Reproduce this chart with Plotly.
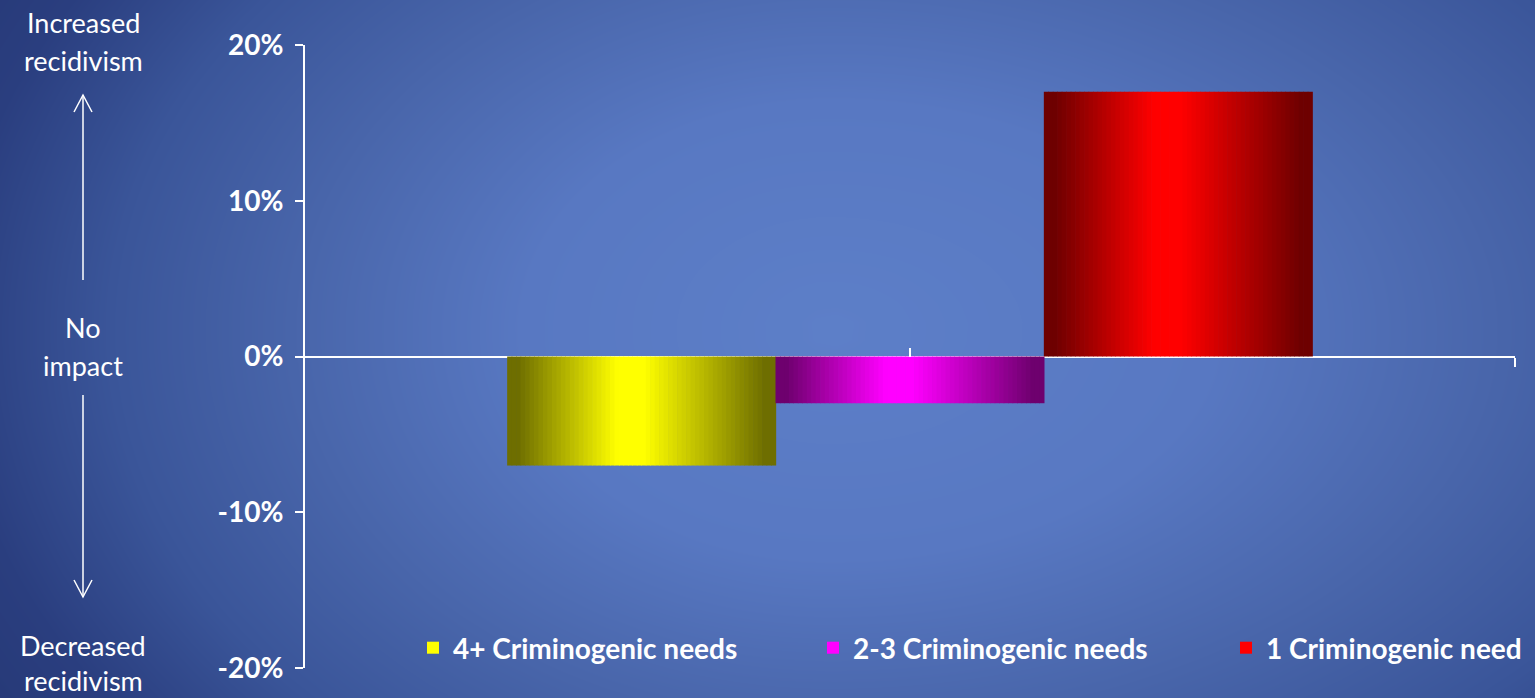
import numpy as np
import plotly.graph_objects as go

# ---- data ----
categories = ["4+ Criminogenic needs", "2-3 Criminogenic needs", "1 Criminogenic need"]
values = [-7, -3, 17]  # percent change in recidivism
bright_colors = [(255, 255, 0), (255, 0, 255), (255, 0, 0)]
y_ticks = [-20, -10, 0, 10, 20]

W, H = 1535, 698

fig = go.Figure()

# ---- background radial gradient (decor) ----
gx = np.linspace(0, W, 80)
gy = np.linspace(0, H, 40)
X, Y = np.meshgrid(gx, gy)
cx, cy = 830, 330
rx = np.where(X < cx, 880, 1100)
Z = np.sqrt(((X - cx) / rx) ** 2 + ((Y - cy) / 650) ** 2)
Z = np.clip(Z, 0, 1.2)
bg_scale = [
    [0.0, "rgb(93,127,200)"],
    [0.35 / 1.2, "rgb(88,120,194)"],
    [0.6 / 1.2, "rgb(73,102,171)"],
    [0.82 / 1.2, "rgb(58,85,153)"],
    [1.0 / 1.2, "rgb(42,62,127)"],
    [1.0, "rgb(36,54,114)"],
]
fig.add_trace(go.Heatmap(x=gx, y=gy, z=Z, colorscale=bg_scale, zmin=0, zmax=1.2,
                         zsmooth="best", showscale=False, hoverinfo="skip",
                         xaxis="x", yaxis="y"))

# ---- bars drawn as gradient strips ----
bargap = 0.3347
n_strips = 60
group_w = 1 - bargap
bar_w = group_w / len(categories)
tp = 0.45
lo = 0.43


def shade(c, t):
    if t < tp:
        f = max(0.0, (t - 0.04) / (tp - 0.08))
    else:
        f = max(0.0, (0.96 - t) / (0.96 - tp - 0.06))
    f = min(f, 1.0)
    k = lo + (1 - lo) * f
    return "rgb(%d,%d,%d)" % tuple(int(round(v * k)) for v in c)


legend_names = ["legend", "legend2", "legend3"]
for i, (cat, val, col) in enumerate(zip(categories, values, bright_colors)):
    left = 0.5 - group_w / 2 + i * bar_w
    sw = bar_w / n_strips
    xs = [left + (k + 0.5) * sw for k in range(n_strips)]
    cols = [shade(col, (k + 0.5) / n_strips) for k in range(n_strips)]
    fig.add_trace(go.Bar(x=xs, y=[val] * n_strips, width=[sw * 1.15] * n_strips,
                         marker=dict(color=cols, line=dict(width=0)),
                         showlegend=False, hoverinfo="skip",
                         xaxis="x2", yaxis="y2"))
    fig.add_trace(go.Bar(x=[None], y=[None], name=cat, legend=legend_names[i],
                         marker=dict(color="rgb(%d,%d,%d)" % col, line=dict(width=0)),
                         xaxis="x2", yaxis="y2"))

# invisible trace for crossing ticks on the zero axis
fig.add_trace(go.Scatter(x=[0.5], y=[0], mode="markers", marker=dict(opacity=0),
                         showlegend=False, hoverinfo="skip", xaxis="x3", yaxis="y2"))

y_dom = [1 - 668 / H, 1 - 45 / H]
x_dom = [305 / W, 1515 / W]
zero_pos = (y_dom[0] + y_dom[1]) / 2

font_family = "Lato, 'Open Sans', sans-serif"
legend_font = dict(family=font_family, size=28, color="white", weight=700)


def legend_at(text_x):
    return dict(orientation="h", x=(text_x - 42) / W, xanchor="left", y=1 - 648 / H,
                yanchor="middle", bgcolor="rgba(0,0,0,0)", font=legend_font,
                itemwidth=30)


fig.update_layout(
    width=W, height=H,
    margin=dict(l=0, r=0, t=0, b=0, autoexpand=False),
    paper_bgcolor="rgb(60,88,155)",
    plot_bgcolor="rgba(0,0,0,0)",
    barmode="overlay",
    xaxis=dict(domain=[0, 1], range=[0, W], visible=False, fixedrange=True),
    yaxis=dict(domain=[0, 1], range=[H, 0], visible=False, fixedrange=True),
    xaxis2=dict(domain=x_dom, range=[0, 1], anchor="free", position=zero_pos,
                showline=True, linecolor="white", linewidth=2,
                tickvals=[0.5, 1.0], ticks="outside", ticklen=9, tickwidth=2,
                tickcolor="white", showticklabels=False, showgrid=False,
                zeroline=False, layer="below traces"),
    xaxis3=dict(domain=x_dom, range=[0, 1], anchor="free", position=zero_pos,
                overlaying="x2", showline=False,
                tickvals=[0.5, 1.0], ticks="inside", ticklen=9, tickwidth=2,
                tickcolor="white", showticklabels=False, showgrid=False,
                zeroline=False),
    yaxis2=dict(domain=y_dom, range=[-20, 20], anchor="x2",
                tickvals=y_ticks, ticktext=["%d%%" % v for v in y_ticks],
                showline=True, linecolor="white", linewidth=2,
                ticks="outside", ticklen=8, tickwidth=2, tickcolor="white",
                tickfont=dict(family=font_family, size=28, color="white", weight=700),
                showgrid=False, zeroline=False, ticklabelstandoff=6),
    legend=legend_at(455),
    legend2=legend_at(855),
    legend3=legend_at(1268),
    showlegend=True,
)

# ---- left side labels and arrows ----
label_font = dict(family=font_family, size=27, color="white")
for text, yy in [("Increased", 22), ("recidivism", 60), ("No", 327), ("impact", 365),
                 ("Decreased", 645), ("recidivism", 680)]:
    fig.add_annotation(x=83, y=yy, xref="x", yref="y", text=text, showarrow=False,
                       font=label_font, xanchor="center", yanchor="middle")

line_style = dict(color="white", width=1.5)
fig.add_shape(type="line", x0=83, y0=280, x1=83, y1=95, xref="x", yref="y", line=line_style)
fig.add_shape(type="path", path="M 74 112 L 83 95 L 92 112", xref="x", yref="y", line=line_style)
fig.add_shape(type="line", x0=83, y0=395, x1=83, y1=597, xref="x", yref="y", line=line_style)
fig.add_shape(type="path", path="M 74 580 L 83 597 L 92 580", xref="x", yref="y", line=line_style)

fig.write_html("out.html", config={"displayModeBar": False},
               post_script="document.body.style.margin='0';")
